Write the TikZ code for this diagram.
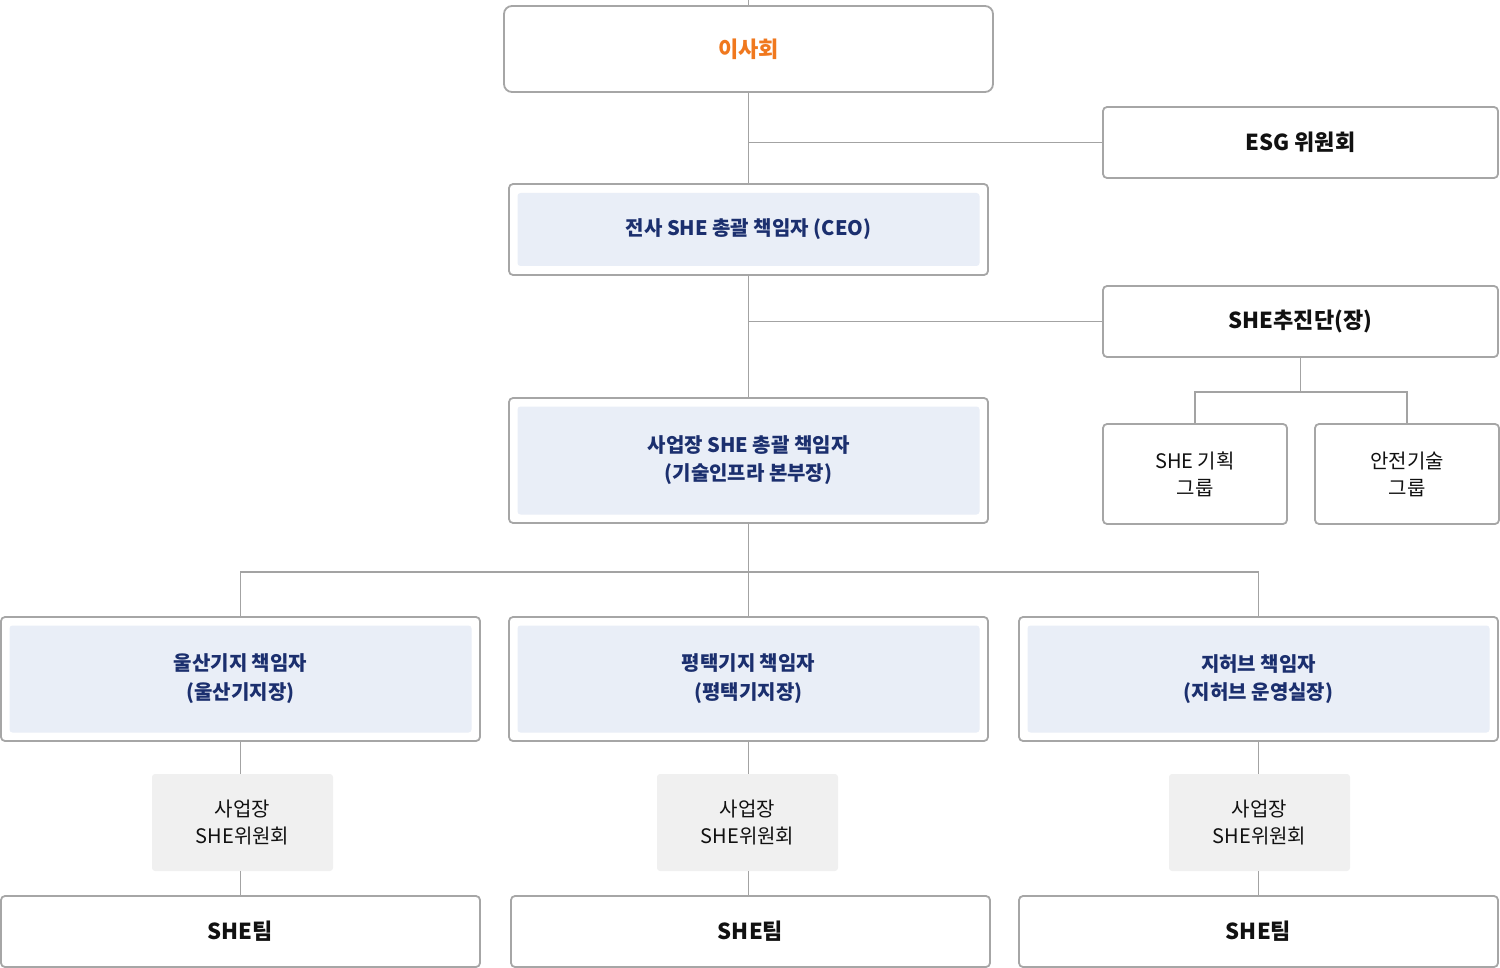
\documentclass[tikz,border=0pt]{standalone}
\usepackage{fontspec}
\setmainfont{Noto Sans CJK KR}
\definecolor{lineg}{HTML}{A3A3A3}
\definecolor{boxg}{HTML}{A6A6A6}
\definecolor{navy}{HTML}{1B2F6E}
\definecolor{orng}{HTML}{F0781E}
\definecolor{paleblue}{HTML}{E9EEF7}
\definecolor{palegray}{HTML}{F0F0F0}
\definecolor{ink}{HTML}{111111}
\tikzset{
  conn/.style={draw=lineg, line width=1.8pt},
  box/.style={draw=boxg, line width=1.8pt, rounded corners=4pt, fill=white, inner sep=0pt, align=center},
  innerfill/.style={fill=paleblue, rounded corners=3pt, inner sep=0pt, align=center, text=navy, font=\fontsize{20}{28}\selectfont\bfseries},
  blacktitle/.style={font=\fontsize{22}{28}\selectfont\bfseries, text=ink},
  plain/.style={font=\fontsize{20}{27}\selectfont, text=ink},
  combox/.style={fill=palegray, rounded corners=3pt, inner sep=0pt, align=center, minimum width=181pt, minimum height=97pt, font=\fontsize{20}{27}\selectfont, text=ink},
}
\begin{document}
\begin{tikzpicture}[x=1pt,y=-1pt]
\useasboundingbox (0,0) rectangle (1500,968);

% boxes
\node[box, rounded corners=8pt, minimum width=489pt, minimum height=86pt, font=\fontsize{22}{28}\selectfont\bfseries, text=orng] (isa) at (748.5,49) {이사회};
\node[box, minimum width=395pt, minimum height=71pt, blacktitle] (esg) at (1300.5,142.5) {ESG 위원회};
\node[box, minimum width=479pt, minimum height=91pt] (ceo) at (748.5,229.5) {};
\node[innerfill, minimum width=462pt, minimum height=73pt] (ceoin) at (ceo.center) {전사 SHE 총괄 책임자 (CEO)};
\node[box, minimum width=395pt, minimum height=71pt, blacktitle] (shedan) at (1300.5,321.5) {SHE추진단(장)};
\node[box, minimum width=479pt, minimum height=125pt] (biz) at (748.5,460.5) {};
\node[innerfill, minimum width=462pt, minimum height=108pt] (bizin) at (biz.center) {사업장 SHE 총괄 책임자\\(기술인프라 본부장)};
\node[box, minimum width=184pt, minimum height=100pt, plain] (plan) at (1195,474) {SHE 기획\\그룹};
\node[box, minimum width=184pt, minimum height=100pt, plain] (tech) at (1407,474) {안전기술\\그룹};

\node[box, minimum width=479pt, minimum height=124pt] (ulsan) at (240.5,679) {};
\node[innerfill, minimum width=462pt, minimum height=107pt, font=\fontsize{20}{29}\selectfont\bfseries] (ulsanin) at (ulsan.center) {울산기지 책임자\\(울산기지장)};
\node[box, minimum width=479pt, minimum height=124pt] (ptk) at (748.5,679) {};
\node[innerfill, minimum width=462pt, minimum height=107pt, font=\fontsize{20}{29}\selectfont\bfseries] (ptkin) at (ptk.center) {평택기지 책임자\\(평택기지장)};
\node[box, minimum width=479pt, minimum height=124pt] (ghub) at (1258.5,679) {};
\node[innerfill, minimum width=462pt, minimum height=107pt] (ghubin) at (ghub.center) {지허브 책임자\\(지허브 운영실장)};

\node[combox] (com1) at (242.5,822.5) {사업장\\SHE위원회};
\node[combox] (com2) at (747.5,822.5) {사업장\\SHE위원회};
\node[combox] (com3) at (1259.5,822.5) {사업장\\SHE위원회};

\node[box, minimum width=479pt, minimum height=71pt, blacktitle] (team1) at (240.5,931.5) {SHE팀};
\node[box, minimum width=479pt, minimum height=71pt, blacktitle] (team2) at (750.5,931.5) {SHE팀};
\node[box, minimum width=479pt, minimum height=71pt, blacktitle] (team3) at (1258.5,931.5) {SHE팀};

% connectors
\coordinate (top) at (748.5,0);
\coordinate (gj) at (1300.5,392);
\coordinate (bus) at (748.5,572);
\begin{scope}[on background layer/.style={}]
\draw[conn] (top) -- (isa.north);
\draw[conn] (isa.south) -- (ceo.north);
\draw[conn] (isa.south |- esg.west) -- (esg.west);
\draw[conn] (ceo.south) -- (biz.north);
\draw[conn] (ceo.south |- shedan.west) -- (shedan.west);
\draw[conn] (shedan.south) -- (gj);
\draw[conn] (plan.north) |- (gj) -| (tech.north);
\draw[conn] (biz.south) -- (ptk.north);
\draw[conn] (ulsan.north) |- (bus) -| (ghub.north);
\draw[conn] (ulsan.south) -- (ulsan.south |- com1.north);
\draw[conn] (ulsan.south |- com1.south) -- (team1.north -| ulsan.south);
\draw[conn] (ptk.south) -- (ptk.south |- com2.north);
\draw[conn] (ptk.south |- com2.south) -- (team2.north -| ptk.south);
\draw[conn] (ghub.south) -- (ghub.south |- com3.north);
\draw[conn] (ghub.south |- com3.south) -- (team3.north -| ghub.south);
\end{scope}
\end{tikzpicture}
\end{document}
